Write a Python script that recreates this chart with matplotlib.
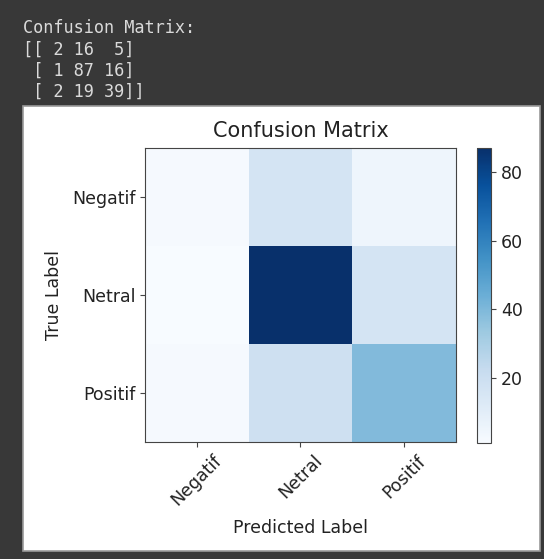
import matplotlib
matplotlib.use("Agg")
import matplotlib.pyplot as plt
import numpy as np
from matplotlib.patches import Rectangle

labels = ["Negatif", "Netral", "Positif"]
row_negatif = [2, 16, 5]
row_netral = [1, 87, 16]
row_positif = [2, 19, 39]
cm = np.array([row_negatif, row_netral, row_positif])

W, H = 544, 559
fig = plt.figure(figsize=(W / 100, H / 100), dpi=100, facecolor="#383838")

# white output panel
fig.add_artist(Rectangle((23 / W, 1 - 551 / H), (540 - 23) / W, (551 - 106) / H,
                         transform=fig.transFigure, facecolor="white",
                         edgecolor="#9a9a9a", linewidth=1.2, zorder=0))

# printed text above
lines = ["Confusion Matrix:"] + [l for l in np.array2string(cm).split("\n")]
ys = [28, 50, 71, 92]
for s, y in zip(lines, ys):
    fig.text(23 / W, 1 - y / H, s, family="DejaVu Sans Mono", fontsize=12.2,
             color="#dadada", va="center", ha="left")

ax = fig.add_axes([145 / W, 1 - 442 / H, 311 / W, 294 / H])
im = ax.imshow(cm, cmap="Blues", interpolation="nearest", aspect="auto")
ax.set_title("Confusion Matrix", fontsize=15, pad=8, color="#222222")
ax.set_xticks(range(len(labels)))
ax.set_xticklabels(labels, rotation=45, fontsize=12.5, color="#222222")
ax.set_yticks(range(len(labels)))
ax.set_yticklabels(labels, fontsize=12.5, color="#222222")
ax.set_xlabel("Predicted Label", fontsize=12.5, labelpad=7, color="#222222")
ax.set_ylabel("True Label", fontsize=12.5, labelpad=6, color="#222222")
ax.tick_params(color="#444444")
for sp in ax.spines.values():
    sp.set_color("#444444")

cax = fig.add_axes([477 / W, 1 - 443 / H, 14 / W, 295 / H])
cb = fig.colorbar(im, cax=cax)
cb.set_ticks([20, 40, 60, 80])
cb.ax.tick_params(labelsize=12.5, color="#444444", labelcolor="#222222")
cb.outline.set_edgecolor("#444444")

fig.savefig("out.png", dpi=100, facecolor=fig.get_facecolor())
